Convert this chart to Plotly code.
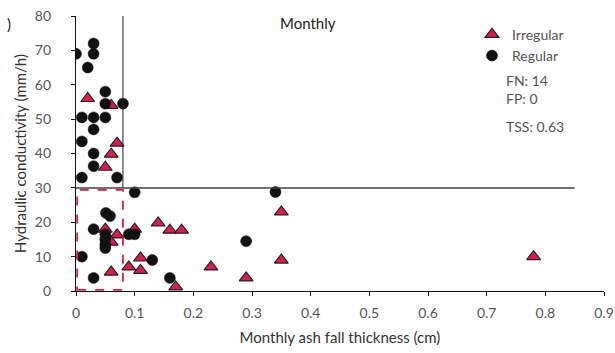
import plotly.graph_objects as go

# Regular (black circles)
reg_x = [0, 0.03, 0.03, 0.02, 0.05, 0.05, 0.08, 0.01, 0.03, 0.05, 0.03, 0.01, 0.03, 0.03,
         0.01, 0.07, 0.1, 0.051, 0.058, 0.03, 0.05, 0.05, 0.05, 0.05, 0.09, 0.1, 0.01,
         0.03, 0.13, 0.16, 0.34, 0.29]
reg_y = [69, 72, 69, 65, 58, 54.5, 54.5, 50.5, 50.5, 50.5, 47, 43.5, 40, 36.3,
         33, 33, 28.7, 22.7, 21.8, 18, 16.5, 15, 13.5, 12.5, 16.5, 16.5, 10,
         3.8, 9, 3.8, 28.8, 14.5]

# Irregular (red triangles)
irr_x = [0.02, 0.06, 0.07, 0.06, 0.05, 0.05, 0.07, 0.06, 0.1, 0.06, 0.09, 0.11, 0.11,
         0.14, 0.16, 0.18, 0.17, 0.23, 0.35, 0.35, 0.29, 0.78]
irr_y = [56, 54, 43, 39.8, 36, 18, 16.3, 14.2, 18, 5.5, 7, 9.6, 6,
         19.8, 17.7, 17.7, 1.2, 7, 23, 9, 3.8, 10]

x_ticks = [0, 0.1, 0.2, 0.3, 0.4, 0.5, 0.6, 0.7, 0.8, 0.9]
x_ticklabels = ["0", "0.1", "0.2", "0.3", "0.4", "0.5", "0.6", "0.7", "0.8", "0.9"]
y_ticks = [0, 10, 20, 30, 40, 50, 60, 70, 80]

stats = ["FN: 14<br>FP: 0", "TSS: 0.63"]

fnt = "Lato, 'Open Sans', sans-serif"
grey = "#555555"

fig = go.Figure()

fig.add_trace(go.Scatter(x=irr_x, y=irr_y, mode="markers", name="Irregular",
                         marker=dict(symbol="triangle-up", size=12, color="#d81e4a",
                                     line=dict(color="#222222", width=1.2))))
fig.add_trace(go.Scatter(x=reg_x, y=reg_y, mode="markers", name="Regular",
                         marker=dict(symbol="circle", size=11, color="#111111",
                                     line=dict(color="#111111", width=0.5))))

# threshold lines
fig.add_shape(type="line", x0=0, x1=0.85, y0=30, y1=30, line=dict(color="#444444", width=1.5))
fig.add_shape(type="line", x0=0.08, x1=0.08, y0=30, y1=80, line=dict(color="#222222", width=1))
fig.add_shape(type="rect", x0=0.002, x1=0.08, y0=0.3, y1=29.4,
              line=dict(color="#d6204a", width=1.8, dash="dash"))

fig.add_annotation(text="Monthly", x=0.395, y=78.1, xref="x", yref="y", showarrow=False,
                   yanchor="middle", font=dict(family=fnt, size=15, color="#222222"))
fig.add_annotation(text=stats[0], xref="paper", yref="paper", x=0.811, y=0.805,
                   xanchor="left", yanchor="top", align="left", showarrow=False,
                   font=dict(family=fnt, size=14, color=grey))
fig.add_annotation(text=stats[1], xref="paper", yref="paper", x=0.811, y=0.637,
                   xanchor="left", yanchor="top", align="left", showarrow=False,
                   font=dict(family=fnt, size=14, color=grey))
fig.add_annotation(text=")", xref="paper", yref="paper", x=-0.135, y=0.97,
                   xanchor="left", yanchor="middle", showarrow=False,
                   font=dict(family=fnt, size=15, color="#222222"))

fig.update_layout(
    width=615, height=353,
    margin=dict(l=76, r=11, t=16, b=62),
    paper_bgcolor="white", plot_bgcolor="white",
    font=dict(family=fnt, size=14, color=grey),
    showlegend=True,
    legend=dict(x=0.75, y=0.99, xanchor="left", yanchor="top", bgcolor="rgba(0,0,0,0)",
                font=dict(family=fnt, size=14, color=grey), itemwidth=30, tracegroupgap=0),
    xaxis=dict(range=[0, 0.9], tickvals=x_ticks, ticktext=x_ticklabels, showgrid=False,
               zeroline=False, showline=True, linecolor="#111111", linewidth=1.2,
               ticks="outside", ticklen=4, tickcolor="#111111", automargin=False,
               ticklabelstandoff=5, ticklabeloverflow="allow",
               title=dict(text="Monthly ash fall thickness (cm)", font=dict(size=15, color="#333333"),
                          standoff=12)),
    yaxis=dict(range=[0, 80], tickvals=y_ticks, showgrid=False, zeroline=False,
               showline=True, linecolor="#111111", linewidth=1.2,
               ticks="outside", ticklen=4, tickcolor="#111111", automargin=False,
               ticklabelstandoff=17, ticklabeloverflow="allow",
               title=dict(text="Hydraulic conductivity (mm/h)", font=dict(size=15, color="#333333"),
                          standoff=4)),
)

# drop the default 8px page margin so the figure fills the window
fig.write_html("out.html", config={"displayModeBar": False},
               post_script="document.body.style.margin='0';")
